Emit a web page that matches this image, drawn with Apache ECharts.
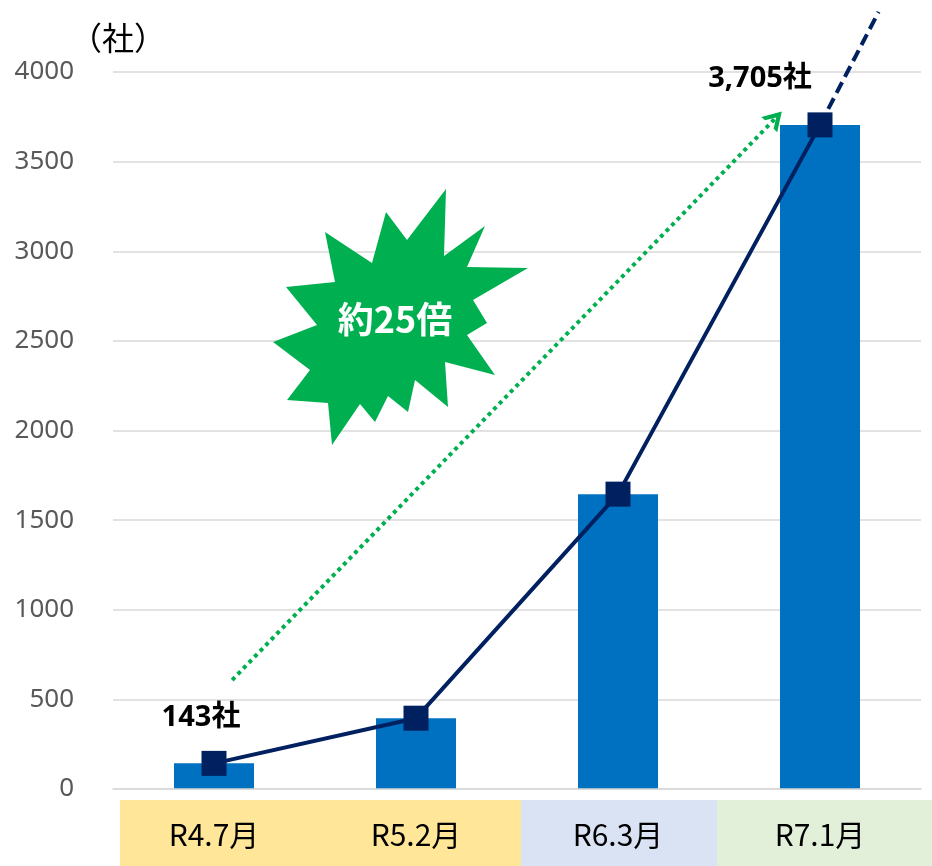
<!DOCTYPE html>
<html><head><meta charset="utf-8">
<script src="https://cdn.jsdelivr.net/npm/echarts@6/dist/echarts.min.js"></script>
<style>html,body{margin:0;padding:0;background:#fff}#c{width:932px;height:866px}</style>
</head><body><div id="c"></div>
<script>
const categories = ['R4.7月', 'R5.2月', 'R6.3月', 'R7.1月'];
const barValues = [143, 395, 1645, 3705];
const lineValues = [143, 395, 1645, 3705];
const pointLabels = ['143社', '', '', '3,705社'];
const yMin = 0, yMax = 4000, yInterval = 500;
const trendExtension = [[3, 3705], [3.29, 4335]];
const arrowStart = [0.09, 608];
const arrowEnd = [2.78, 3743];
const burstText = '約25倍';
const unitText = '（社）';

const burst = [[446,189],[444,256],[485,226],[467,267],[528,268],[473,300],[487,323],[467,335],[495,375],[445,362],[448,407],[415,380],[408,412],[388,396],[375,422],[360,404],[332,445],[328,403],[287,400],[310,370],[273,342],[317,325],[286,287],[335,282],[325,232],[372,263],[386,212],[407,240]];

const chart = echarts.init(document.getElementById('c'));
const font = '"Noto Sans", "Noto Sans CJK JP", sans-serif';
chart.setOption({
  animation: false,
  grid: {left: 113, right: 11, top: 72, bottom: 77},
  xAxis: [{
    type: 'category', data: categories, z: 10,
    axisLine: {lineStyle: {color: '#d9d9d9', width: 1.5}},
    axisTick: {show: false},
    axisLabel: {margin: 31, fontSize: 30, color: '#000', fontFamily: '"Noto Sans CJK JP", sans-serif'}
  }, {
    type: 'value', min: -0.5, max: 3.5, show: false
  }],
  yAxis: {
    type: 'value', min: yMin, max: yMax, interval: yInterval,
    axisLine: {show: false}, axisTick: {show: false},
    splitLine: {lineStyle: {color: '#d9d9d9', width: 1.5}},
    axisLabel: {margin: 39, fontSize: 26, color: '#595959', fontFamily: font, formatter: v => String(v)}
  },
  series: [{
    type: 'bar', data: barValues, barWidth: 80, itemStyle: {color: '#0070C0'}
  }, {
    type: 'line', xAxisIndex: 1, data: trendExtension, clip: false, symbol: 'none', z: 3,
    lineStyle: {color: '#002060', width: 4, type: [12, 6]},
    markLine: {
      silent: true, symbol: ['none', 'path://M0,20 L10,0 L20,20 L15.5,20 L10,9 L4.5,20 Z'], symbolSize: [22, 18],
      label: {show: false},
      lineStyle: {color: '#00B050', width: 4, type: [4, 4]},
      data: [[{coord: arrowStart}, {coord: arrowEnd}]]
    }
  }, {
    type: 'line', data: lineValues, symbol: 'rect', symbolSize: 25, z: 4,
    lineStyle: {color: '#002060', width: 4},
    itemStyle: {color: '#002060'},
    label: {
      show: true, position: 'top', distance: 5,
      fontSize: 29, fontWeight: 'bold', color: '#000', fontFamily: font,
      formatter: p => pointLabels[p.dataIndex]
    },
    labelLayout: p => p.dataIndex === 0 ? {dx: -13, dy: -14} : {dx: -60, dy: -14}
  }],
  graphic: [
    {type: 'rect', z: -5, shape: {x: 120, y: 800, width: 401, height: 66}, style: {fill: '#FFE699'}},
    {type: 'rect', z: -5, shape: {x: 521, y: 800, width: 196, height: 66}, style: {fill: '#DAE3F3'}},
    {type: 'rect', z: -5, shape: {x: 717, y: 800, width: 215, height: 66}, style: {fill: '#E2F0D9'}},
    {type: 'polygon', z: 20, shape: {points: burst}, style: {fill: '#00B050'}},
    {type: 'text', z: 21, x: 395, y: 319, style: {text: burstText, fill: '#fff', font: 'bold 36px "Noto Sans CJK JP", sans-serif', textAlign: 'center', textVerticalAlign: 'middle'}},
    {type: 'text', z: 21, x: 70, y: 38, style: {text: unitText, fill: '#000', font: '32px "Noto Sans CJK JP", sans-serif', textAlign: 'left', textVerticalAlign: 'middle'}}
  ]
});
</script></body></html>
